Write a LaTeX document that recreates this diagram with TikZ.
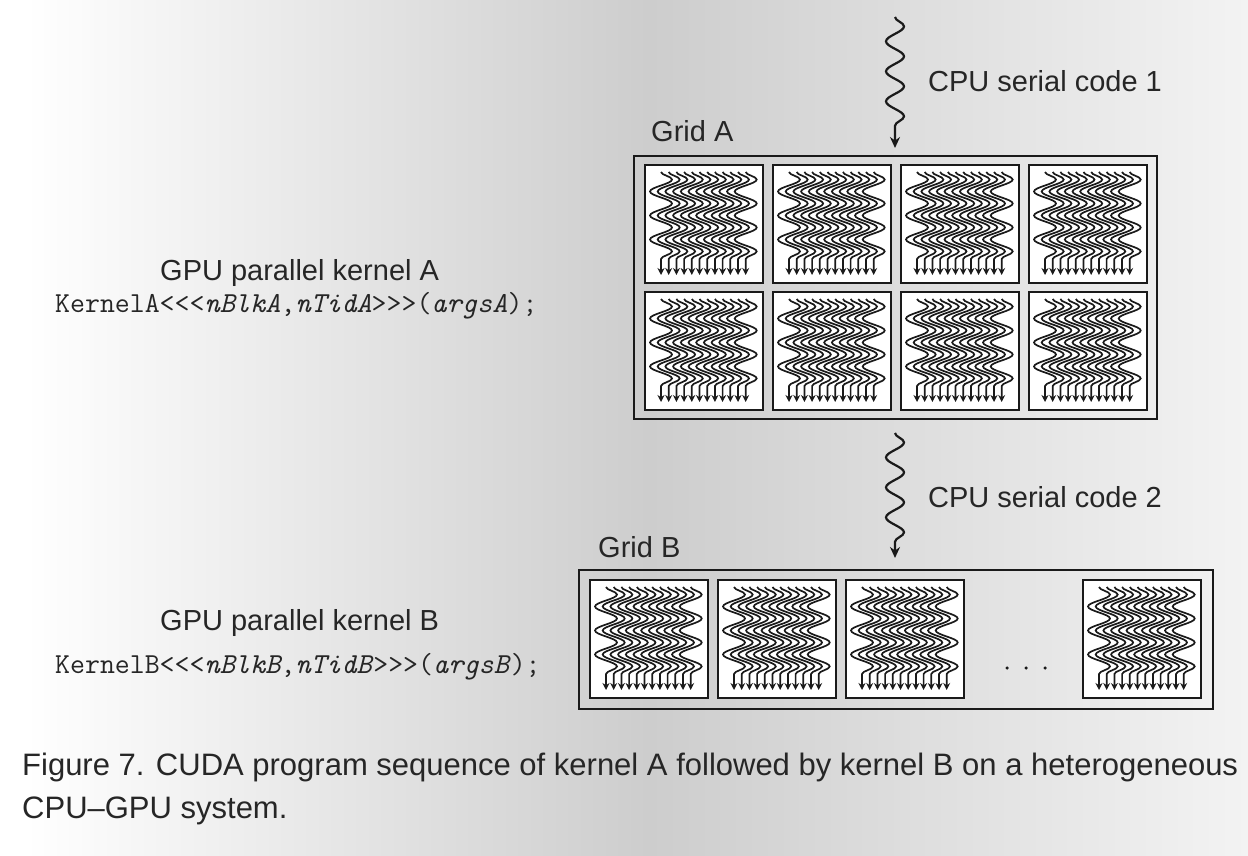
\documentclass[tikz,border=0pt]{standalone}
\usepackage{fontspec}
\setmainfont{Liberation Sans}
\usetikzlibrary{decorations.pathmorphing,arrows.meta,calc}
\definecolor{bgmid}{HTML}{CDCDCD}
\definecolor{bgright}{HTML}{F3F3F3}
\definecolor{ink}{HTML}{1A1A1A}
\definecolor{txtink}{HTML}{262626}
\pgfdeclarehorizontalshading{bgshade}{100bp}{color(0bp)=(white); color(26bp)=(white); color(51bp)=(bgmid); color(75bp)=(bgright); color(100bp)=(bgright)}
\newcommand{\cdlt}{<\kern0pt}
\newcommand{\cdgt}{>\kern0pt}
\tikzset{
  blockbox/.style={draw=ink, line width=1.6pt, fill=white, minimum width=118pt, minimum height=118pt, inner sep=0pt, outer sep=0pt, anchor=north west},
  gridbox/.style={draw=ink, line width=2.6pt, inner sep=0pt, outer sep=0pt, anchor=north west},
  thread/.style={draw=ink, line width=1.7pt, decorate, decoration={snake, amplitude=11pt, segment length=24pt, post length=7pt}, -{Stealth[length=7pt,width=7pt]}},
  serial/.style={draw=ink, line width=2.2pt, decorate, decoration={snake, amplitude=9pt, segment length=30pt, post length=11pt}, -{Stealth[length=11pt,width=10pt]}},
  lbl/.style={font=\fontsize{29}{34}\selectfont, text=txtink, inner sep=0pt, anchor=base west},
  captxt/.style={font=\fontsize{31}{36}\selectfont, text=txtink, inner sep=0pt, anchor=base west},
  codetxt/.style={font=\ttfamily\fontsize{29}{32}\selectfont, text=txtink, inner sep=0pt, anchor=base west},
  dotmark/.style={circle, fill=ink, inner sep=0pt, minimum size=3.5pt}
}
\begin{document}
\begin{tikzpicture}[x=1pt,y=-1pt]
\shade[shading=bgshade] (0,0) rectangle (1248,856);
\useasboundingbox (0,0) rectangle (1248,856);

% Grid A
\node[gridbox, minimum width=523pt, minimum height=263pt] (gridA) at (634,156) {};
\foreach \r/\yy in {1/165,2/292}
  \foreach \c/\xx in {1/645,2/773,3/901,4/1029}
    \node[blockbox] (a\r\c) at (\xx,\yy) {};

% Grid B
\node[gridbox, minimum width=634pt, minimum height=139pt] (gridB) at (579,570) {};
\foreach \c/\xx in {1/590,2/718,3/846,4/1083}
  \node[blockbox] (b\c) at (\xx,580) {};
\node[dotmark] (d1) at (1007,668) {};
\node[dotmark] (d2) at (1026,668) {};
\node[dotmark] (d3) at (1045,668) {};

% threads
\foreach \b in {a11,a12,a13,a14,a21,a22,a23,a24,b1,b2,b3,b4}
  \foreach \i in {0,...,11}
    \draw[thread] ($(\b.north west)+(16+\i*7.7,7)$) -- ($(\b.north west)+(16+\i*7.7,110)$);

% serial code arrows
\coordinate (s1a) at (895,17);
\coordinate (s1b) at (895,148);
\draw[serial] (s1a) -- (s1b);
\coordinate (s2a) at (895,433);
\coordinate (s2b) at (895,558);
\draw[serial] (s2a) -- (s2b);

% labels
\node[lbl] (lblS1) at (928,92) {CPU serial code 1};
\node[lbl] (lblS2) at (928,507) {CPU serial code 2};
\node[lbl] (lblGA) at (651,142) {Grid A};
\node[lbl] (lblGB) at (598,557) {Grid B};
\node[lbl] (lblKA) at (160,280) {GPU parallel kernel A};
\node[codetxt] (codeA) at (55,312) {KernelA\cdlt\cdlt\cdlt\textit{nBlkA},\textit{nTidA}\cdgt\cdgt\cdgt(\textit{argsA});};
\node[lbl] (lblKB) at (160,630) {GPU parallel kernel B};
\node[codetxt] (codeB) at (55,673) {KernelB\cdlt\cdlt\cdlt\textit{nBlkB},\textit{nTidB}\cdgt\cdgt\cdgt(\textit{argsB});};

% caption
\node[captxt] (cap1) at (22,775) {Figure 7. CUDA program sequence of kernel A followed by kernel B on a heterogeneous};
\node[captxt] (cap2) at (22,818) {CPU–GPU system.};
\end{tikzpicture}
\end{document}
